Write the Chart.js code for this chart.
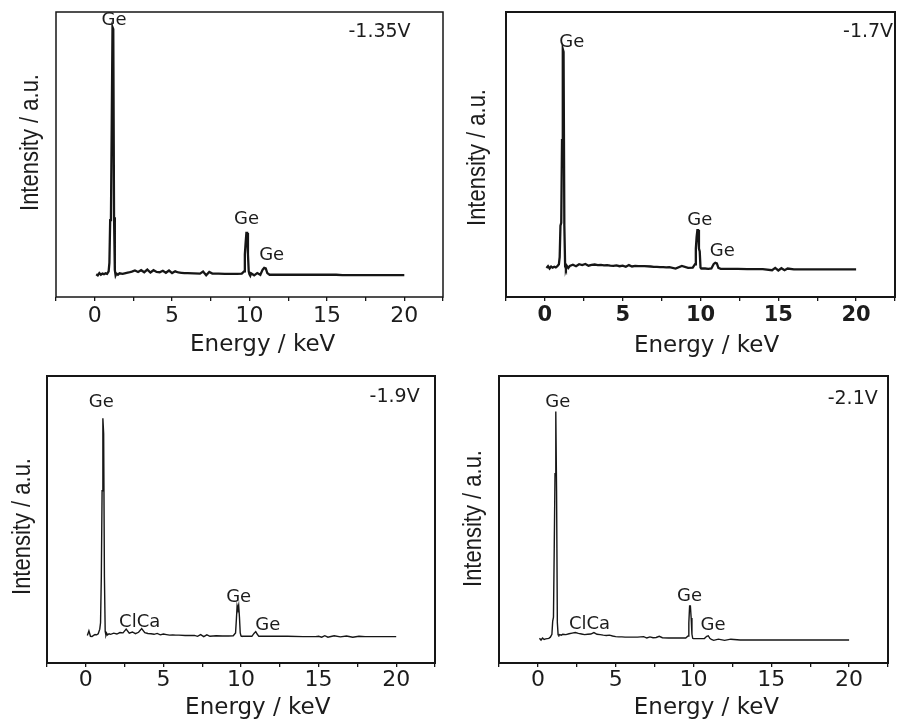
<!DOCTYPE html>
<html>
<head>
<meta charset="utf-8">
<script src="https://cdn.jsdelivr.net/npm/chart.js@4.4.1/dist/chart.umd.min.js"></script>
<style>
  html, body { margin: 0; background: #fff; }
  #wrap { position: relative; width: 899px; height: 722px; }
  .panel { position: absolute; }
</style>
</head>
<body>
<div id="wrap">
  <div class="panel" style="left:0;top:0"><canvas id="c1" width="450" height="360"></canvas></div>
  <div class="panel" style="left:450px;top:0"><canvas id="c2" width="449" height="360"></canvas></div>
  <div class="panel" style="left:0;top:360px"><canvas id="c3" width="450" height="362"></canvas></div>
  <div class="panel" style="left:450px;top:360px"><canvas id="c4" width="449" height="362"></canvas></div>
</div>
<script>
// energy grid (keV), shared by all four spectra
const energy = [
  0.1, 0.2, 0.3, 0.4, 0.5, 0.6, 0.7, 0.8, 0.9, 0.95,
  1.0, 1.05, 1.1, 1.15, 1.2, 1.25, 1.3, 1.35, 1.4, 1.5,
  1.6, 1.8, 2.0, 2.2, 2.4, 2.6, 2.8, 3.0, 3.2, 3.4,
  3.6, 3.8, 4.0, 4.2, 4.4, 4.6, 4.8, 5.0, 5.2, 5.4,
  5.6, 5.8, 6.0, 6.4, 6.8, 7.0, 7.2, 7.4, 7.6, 7.8,
  8.0, 8.4, 8.8, 9.2, 9.5, 9.65, 9.7, 9.75, 9.8, 9.85,
  9.9, 9.95, 10.0, 10.05, 10.1, 10.3, 10.5, 10.7, 10.85, 10.95,
  11.05, 11.15, 11.3, 11.6, 12.0, 12.4, 13.0, 14.0, 14.6, 14.8,
  15.0, 15.2, 15.4, 15.6, 16.0, 16.4, 16.8, 17.2, 17.6, 18.0,
  18.5, 19.0, 19.5, 20.0
];

// intensities (a.u.)
const spec135 = [
  8.0, 7.6, 8.4, 7.8, 8.2, 8.0, 8.3, 8.1, 9.0, 12,
  27, 28, 60, 94.7, 94, 28, 9.5, 7.6, 8.2, 7.8,
  8.3, 8.1, 8.4, 8.6, 8.9, 9.3, 8.8, 9.4, 8.7, 9.6,
  8.6, 9.4, 8.8, 8.7, 9.2, 8.5, 9.3, 8.4, 9.0, 8.6,
  8.5, 8.4, 8.4, 8.3, 8.2, 8.9, 7.6, 8.8, 8.2, 8.2,
  8.2, 8.1, 8.1, 8.1, 8.2, 9.0, 15, 19, 22.5, 22.5,
  15, 9.0, 8.0, 7.5, 8.3, 7.6, 8.4, 7.8, 9.6, 10.2,
  10.0, 8.4, 7.8, 7.8, 7.8, 7.8, 7.8, 7.8, 7.8, 7.8,
  7.8, 7.8, 7.8, 7.8, 7.7, 7.7, 7.7, 7.7, 7.7, 7.7,
  7.7, 7.7, 7.7, 7.7
];
const spec17 = [
  10.2, 10.8, 10.0, 10.7, 10.3, 10.6, 10.4, 10.8, 11.5, 14,
  25, 26, 55, 87, 86, 25, 10.8, 10.0, 11.0, 10.2,
  10.9, 11.3, 10.8, 11.5, 11.2, 11.6, 11.0, 11.3, 11.4, 11.2,
  11.3, 11.1, 11.2, 11.0, 10.9, 11.1, 10.8, 11.0, 10.6, 11.2,
  10.7, 10.9, 10.8, 10.8, 10.7, 10.6, 10.6, 10.5, 10.5, 10.4,
  10.5, 10.0, 10.9, 10.2, 10.3, 11.5, 17, 21, 23.5, 23.5,
  17, 16, 10.3, 10.0, 10.0, 10.0, 9.9, 10.0, 11.6, 12,
  11.8, 10.2, 9.9, 9.9, 9.9, 9.9, 9.8, 9.8, 9.4, 10.2,
  9.3, 10.1, 9.4, 10.0, 9.7, 9.7, 9.7, 9.7, 9.7, 9.7,
  9.7, 9.7, 9.7, 9.7
];
const spec19 = [
  9.6, 11.2, 9.3, 9.2, 9.6, 9.9, 9.8, 10.2, 11.8, 14,
  30, 60, 85.3, 80, 30, 11, 9.6, 10.3, 9.8, 10.2,
  10.0, 10.4, 10.1, 10.6, 10.5, 11.8, 10.4, 10.8, 10.2, 10.7,
  12.0, 10.6, 10.3, 10.2, 10.0, 10.3, 9.8, 10.1, 9.9, 9.7,
  9.8, 9.7, 9.7, 9.6, 9.6, 9.6, 9.3, 9.9, 9.2, 9.8,
  9.3, 9.5, 9.4, 9.4, 9.5, 10.5, 15, 20, 19, 20.2,
  16, 10.5, 9.4, 9.3, 9.3, 9.3, 9.3, 9.3, 10.4, 10.9,
  10.0, 9.3, 9.3, 9.3, 9.3, 9.3, 9.3, 9.2, 9.2, 9.2,
  9.3, 9.0, 9.5, 9.0, 9.5, 9.1, 9.4, 9.0, 9.3, 9.2,
  9.2, 9.2, 9.2, 9.2
];
const spec21 = [
  8.6, 8.0, 8.7, 8.2, 8.4, 8.5, 8.6, 9.0, 10.0, 14.5,
  16, 40, 66, 87.6, 60, 14, 9.8, 9.6, 9.9, 9.7,
  10.0, 9.9, 10.2, 10.4, 10.6, 10.3, 10.1, 9.9, 10.0, 10.1,
  10.6, 10.0, 9.9, 9.7, 9.6, 9.7, 9.4, 9.2, 9.1, 9.1,
  9.0, 9.0, 9.0, 9.0, 9.2, 8.7, 9.1, 8.8, 8.9, 9.3,
  8.8, 8.7, 8.7, 8.7, 8.7, 9.4, 14, 19.9, 19.9, 15.7,
  10, 8.6, 8.5, 8.5, 8.5, 8.5, 8.5, 8.5, 9.3, 9.5,
  8.6, 8.2, 7.9, 8.3, 7.9, 8.3, 8.0, 8.0, 8.0, 8.0,
  8.0, 8.0, 8.0, 8.0, 8.0, 8.0, 8.0, 8.0, 8.0, 8.0,
  8.0, 8.0, 8.0, 8.0
];

const voltages = ['-1.35V', '-1.7V', '-1.9V', '-2.1V'];
const xTicks = [0, 5, 10, 15, 20];

// peak labels: [energy, intensity, text]
const peaks135 = [[1.25, 97.2, 'Ge'], [9.81, 27.4, 'Ge'], [11.43, 14.5, 'Ge']];
const peaks17 = [[1.73, 89.4, 'Ge'], [9.96, 27.0, 'Ge'], [11.4, 16.2, 'Ge']];
const peaks19 = [[1.0, 90.8, 'Ge'], [3.47, 14.0, 'ClCa'], [9.85, 22.9, 'Ge'], [11.73, 13.0, 'Ge']];
const peaks21 = [[1.28, 91.0, 'Ge'], [3.32, 13.6, 'ClCa'], [9.74, 23.1, 'Ge'], [11.25, 13.0, 'Ge']];

const INK = '#161616';

const framePlugin = {
  id: 'frame',
  afterDraw(chart, args, o) {
    const { ctx, chartArea: a, scales: { x, y } } = chart;
    ctx.save();
    ctx.strokeStyle = INK;
    ctx.lineWidth = o.border;
    ctx.strokeRect(a.left, a.top, a.right - a.left, a.bottom - a.top);

    ctx.fillStyle = '#1c1c1c';
    ctx.textAlign = 'center';
    ctx.textBaseline = 'middle';
    ctx.font = '18px "DejaVu Sans"';
    o.peaks.forEach(([e, v, t]) => ctx.fillText(t, x.getPixelForValue(e), y.getPixelForValue(v)));
    ctx.font = '19px "DejaVu Sans"';
    ctx.fillText(o.volt[0], x.getPixelForValue(o.volt[1]), y.getPixelForValue(o.volt[2]));

    ctx.textBaseline = 'alphabetic';
    ctx.font = '23px "DejaVu Sans"';
    ctx.fillText('Energy / keV', x.getPixelForValue(o.xTitleAt), a.bottom + o.xTitleGap);

    ctx.translate(o.yTitleX, (a.top + a.bottom) / 2 + o.yTitleDy);
    ctx.rotate(-Math.PI / 2);
    ctx.scale(1, 1.15);
    ctx.textBaseline = 'middle';
    ctx.font = '22px "Liberation Sans"';
    ctx.fillText('Intensity / a.u.', 0, 0);
    ctx.restore();
  }
};

function makePanel(id, spec, peaks, volt, cfg) {
  new Chart(document.getElementById(id), {
    type: 'line',
    data: {
      datasets: [{
        data: energy.map((e, i) => ({ x: e, y: spec[i] })),
        borderColor: INK,
        borderWidth: cfg.line,
        pointRadius: 0,
        tension: 0,
        fill: false
      }]
    },
    options: {
      responsive: false,
      animation: false,
      devicePixelRatio: 1,
      layout: { padding: { left: cfg.pad[0], top: cfg.pad[1], right: cfg.pad[2], bottom: 0 } },
      plugins: {
        legend: { display: false },
        tooltip: { enabled: false },
        frame: {
          border: cfg.border,
          peaks,
          volt,
          xTitleAt: cfg.xTitleAt,
          xTitleGap: cfg.xTitleGap,
          yTitleX: cfg.yTitleX,
          yTitleDy: cfg.yTitleDy
        }
      },
      scales: {
        x: {
          type: 'linear',
          min: -2.5,
          max: 22.5,
          afterFit: s => { s.height = cfg.xh; },
          border: { display: false },
          grid: { drawOnChartArea: false, drawTicks: true, tickLength: 4, color: INK, lineWidth: 1.3 },
          ticks: {
            stepSize: 2.5,
            autoSkip: false,
            maxRotation: 0,
            padding: cfg.tickPad,
            color: '#1c1c1c',
            font: { family: 'DejaVu Sans', size: cfg.bold ? 21 : 22, weight: cfg.bold ? 'bold' : 'normal' },
            callback: v => (xTicks.includes(v) ? String(v) : '')
          }
        },
        y: { display: false, min: 0, max: 100 }
      }
    },
    plugins: [framePlugin]
  });
}

makePanel('c1', spec135, peaks135, [voltages[0], 18.4, 92.9],
  { pad: [56, 12, 7], xh: 63, line: 2.3, border: 1.5, tickPad: 2, bold: false, xTitleAt: 10.85, xTitleGap: 54, yTitleX: 31, yTitleDy: -12 });
makePanel('c2', spec17, peaks17, [voltages[1], 20.77, 92.9],
  { pad: [56, 12, 4], xh: 63, line: 2.3, border: 2, tickPad: 2, bold: true, xTitleAt: 10.39, xTitleGap: 55, yTitleX: 28, yTitleDy: 3 });
makePanel('c3', spec19, peaks19, [voltages[2], 19.9, 92.8],
  { pad: [47, 16, 15], xh: 59, line: 1.4, border: 2, tickPad: 0, bold: false, xTitleAt: 11.08, xTitleGap: 51, yTitleX: 23, yTitleDy: 7 });
makePanel('c4', spec21, peaks21, [voltages[3], 20.23, 91.9],
  { pad: [49, 16, 11], xh: 59, line: 1.4, border: 2, tickPad: 0, bold: false, xTitleAt: 10.83, xTitleGap: 51, yTitleX: 24, yTitleDy: -1 });
</script>
</body>
</html>
